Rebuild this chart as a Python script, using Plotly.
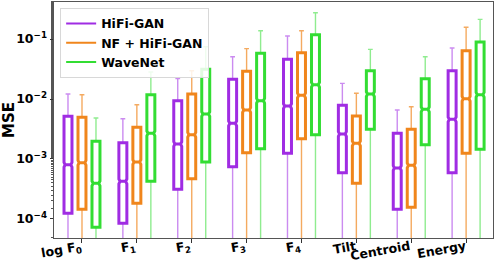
import plotly.graph_objects as go

categories = ["log F0", "F1", "F2", "F3", "F4", "Tilt", "Centroid", "Energy"]
tick_text = ["log F<sub>0</sub>", "F<sub>1</sub>", "F<sub>2</sub>", "F<sub>3</sub>",
             "F<sub>4</sub>", "Tilt", "Centroid", "Energy"]
series_names = ["HiFi-GAN", "NF + HiFi-GAN", "WaveNet"]
y_tick_vals = [1e-4, 1e-3, 1e-2, 1e-1]
y_tick_text = ["10<sup>\u22124</sup>", "10<sup>\u22123</sup>", "10<sup>\u22122</sup>", "10<sup>\u22121</sup>"]

# log10 of the box statistics
hifigan_cap = [-1.917, -2.328, -1.661, -1.295, -0.950, -1.739, -2.183, -1.150]
hifigan_q3 = [-2.289, -2.728, -2.028, -1.672, -1.339, -2.105, -2.572, -1.528]
hifigan_med = [-3.095, -3.372, -2.750, -2.405, -2.117, -2.583, -3.150, -2.339]
hifigan_q1 = [-3.905, -4.072, -3.505, -3.128, -2.905, -3.228, -3.839, -3.228]

nf_cap = [-1.928, -2.095, -1.528, -1.161, -0.861, -1.905, -2.128, -0.805]
nf_q3 = [-2.305, -2.472, -1.917, -1.539, -1.228, -2.283, -2.505, -1.195]
nf_med = [-3.062, -3.050, -2.595, -2.183, -1.939, -2.739, -3.105, -1.995]
nf_q1 = [-3.838, -3.739, -3.328, -2.895, -2.661, -3.405, -3.805, -2.905]

wn_cap = [-2.317, -1.550, -1.128, -0.861, -0.561, -1.172, -1.295, -0.672]
wn_q3 = [-2.705, -1.928, -1.505, -1.239, -0.928, -1.528, -1.661, -1.050]
wn_med = [-3.405, -2.572, -2.250, -2.028, -1.761, -1.917, -2.172, -1.928]
wn_q1 = [-4.138, -3.372, -3.050, -2.828, -2.595, -2.505, -2.761, -2.839]

# lower whiskers run past the bottom of the axis
low_whisker = [-6.0] * 8

colors = ["#A02CE3", "#F0861C", "#33DD33"]
whisker_colors = ["rgba(160,44,227,0.55)", "rgba(240,134,28,0.7)", "rgba(51,221,51,0.55)"]

stats = [
    (hifigan_q1, hifigan_med, hifigan_q3, hifigan_cap),
    (nf_q1, nf_med, nf_q3, nf_cap),
    (wn_q1, wn_med, wn_q3, wn_cap),
]

def p10(a):
    return [10 ** v for v in a]

fig = go.Figure()
FONT = "DejaVu Sans"

for i, (q1, med, q3, cap) in enumerate(stats):
    Q1, MED, Q3, CAP, LOW = p10(q1), p10(med), p10(q3), p10(cap), p10(low_whisker)
    span = [m * 0.09 for m in MED]
    # whisker layer
    fig.add_trace(go.Box(
        x=categories, q1=Q1, median=MED, q3=Q3, lowerfence=LOW, upperfence=CAP,
        notched=True, notchspan=span, notchwidth=0.15,
        offsetgroup=series_names[i], name=series_names[i], showlegend=False,
        line=dict(color=whisker_colors[i], width=1.4), fillcolor="rgba(0,0,0,0)",
        whiskerwidth=0.6, hoverinfo="skip",
    ))
    # thick box layer
    fig.add_trace(go.Box(
        x=categories, q1=Q1, median=MED, q3=Q3, lowerfence=Q1, upperfence=Q3,
        notched=True, notchspan=span, notchwidth=0.15,
        offsetgroup=series_names[i], name=series_names[i], showlegend=False,
        line=dict(color=colors[i], width=3), fillcolor="rgba(255,255,255,1)",
        whiskerwidth=0,
    ))

for i, name in enumerate(series_names):
    fig.add_trace(go.Scatter(
        x=[categories[0]], y=[None], mode="lines", name=name,
        line=dict(color=colors[i], width=2), showlegend=True,
    ))

# rotated, right-aligned category labels
for cat, txt in zip(categories, tick_text):
    fig.add_annotation(
        x=cat, y=0, xref="x", yref="paper", text=txt, showarrow=False,
        xanchor="right", yanchor="top", textangle=-10, yshift=2, xshift=3,
        font=dict(family=FONT, size=12.5, color="black", weight="bold"),
    )

fig.update_layout(
    width=494, height=260,
    margin=dict(l=54, r=1, t=2, b=22, autoexpand=False),
    paper_bgcolor="white", plot_bgcolor="white",
    boxmode="group", boxgap=0.235, boxgroupgap=0.43,
    font=dict(family=FONT, size=12.5, color="black"),
    legend=dict(
        x=0.014, y=0.975, xanchor="left", yanchor="top",
        bgcolor="rgba(255,255,255,0.85)", bordercolor="#d8d8d8", borderwidth=1,
        font=dict(family=FONT, size=12.5, color="black", weight="bold"),
        itemwidth=30, tracegroupgap=0,
    ),
)

fig.update_xaxes(
    type="category", categoryorder="array", categoryarray=categories,
    range=[-0.51, 7.49], automargin=False,
    showticklabels=False,
    ticks="outside", ticklen=3.5, tickcolor="#333",
    showline=True, linecolor="#555", linewidth=1, mirror=True,
    showgrid=False, zeroline=False,
)

fig.update_yaxes(
    type="log", range=[-4.317, -0.383], automargin=False,
    tickvals=y_tick_vals, ticktext=y_tick_text,
    tickfont=dict(family=FONT, size=12.5, color="black", weight="bold"),
    ticks="outside", ticklen=3.5, tickcolor="#333",
    minor=dict(ticks="outside", ticklen=2, tickcolor="#555", showgrid=False),
    showline=True, linecolor="#555", linewidth=1, mirror=True,
    showgrid=False, zeroline=False,
    title=dict(text="MSE", font=dict(family=FONT, size=15, color="black", weight="bold"), standoff=4),
)

fig.write_html(
    "out.html",
    config={"displayModeBar": False},
    post_script="document.body.style.margin='0px';document.body.style.overflow='hidden';",
)
